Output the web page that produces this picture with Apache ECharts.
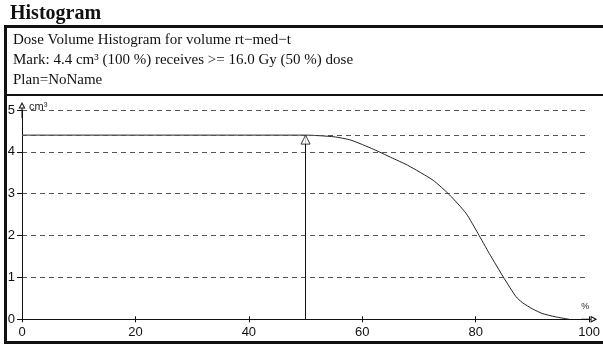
<!DOCTYPE html>
<html><head><meta charset="utf-8">
<script src="https://cdn.jsdelivr.net/npm/echarts@6/dist/echarts.min.js"></script>
<style>html,body{margin:0;padding:0;background:#fff}#c{width:603px;height:345px}</style>
</head><body><div id="c"></div>
<script>
// ---- data ----
const titleText = 'Histogram';
const infoLines = [
  'Dose Volume Histogram for volume rt\u2212med\u2212t',
  'Mark: 4.4 cm\u00B3 (100 %) receives >= 16.0 Gy (50 %) dose',
  'Plan=NoName'
];
const xTickLabels = [0, 20, 40, 60, 80, 100];
const yTickLabels = [0, 1, 2, 3, 4, 5];
const dosePct   = [0,   50,  55,   58,   62,   65,   68,   72.5, 75.4, 78.3, 80.4, 82.4, 85,   87.1, 88.2, 90,   91.7, 94,   96.5];
const volumeCm3 = [4.4, 4.4, 4.36, 4.28, 4.06, 3.87, 3.68, 3.32, 2.97, 2.53, 2.05, 1.57, 0.98, 0.54, 0.40, 0.25, 0.14, 0.06, 0.0];
const markDose = 50;
const markVolume = 4.4;
const xUnit = '%';
const yUnit = 'cm\u00B3';

// ---- chart ----
const arrowPath = 'path://M3.5,0 L7,6.5 L0,6.5 Z M3.5,2.3 L1.7,5.6 L5.3,5.6 Z M3,6.5 L4,6.5 L4,16 L3,16 Z';
const curve = dosePct.map((d, i) => [d, volumeCm3[i]]);
const sans = 'Liberation Sans';

const chart = echarts.init(document.getElementById('c'), null, {renderer: 'canvas'});
chart.setOption({
  animation: false,
  backgroundColor: '#fff',
  grid: {left: 22, right: 9, top: 110, height: 209.3, containLabel: false},
  xAxis: [{
    type: 'value', min: xTickLabels[0], max: xTickLabels[xTickLabels.length - 1],
    interval: xTickLabels[1] - xTickLabels[0], position: 'bottom',
    name: xUnit, nameLocation: 'end', nameGap: 0,
    nameTextStyle: {fontFamily: sans, fontSize: 9, color: '#222', align: 'right', verticalAlign: 'bottom', padding: [0, 0, 8, 0]},
    axisLine: {show: true, onZero: false, lineStyle: {color: '#111', width: 1}, symbol: ['none', arrowPath], symbolSize: [7, 16]},
    axisTick: {show: true, length: 3, lineStyle: {color: '#111'}},
    axisLabel: {fontFamily: sans, fontSize: 13, color: '#111', margin: 7},
    splitLine: {show: false}
  }, {
    type: 'value', min: xTickLabels[0], max: xTickLabels[xTickLabels.length - 1],
    interval: xTickLabels[1] - xTickLabels[0], position: 'bottom',
    axisLine: {show: false},
    axisTick: {show: true, inside: true, length: 3, lineStyle: {color: '#111'}},
    axisLabel: {show: false},
    splitLine: {show: false}
  }],
  yAxis: {
    type: 'value', min: yTickLabels[0], max: yTickLabels[yTickLabels.length - 1],
    interval: yTickLabels[1] - yTickLabels[0],
    name: yUnit, nameLocation: 'end', nameGap: 3,
    nameTextStyle: {fontFamily: sans, fontSize: 11, color: '#222', align: 'left', verticalAlign: 'middle', padding: [0, 0, 0, 7]},
    axisLine: {show: true, onZero: false, lineStyle: {color: '#111', width: 1}, symbol: ['none', arrowPath], symbolSize: [7, 16]},
    axisTick: {show: true, length: 5, lineStyle: {color: '#111'}},
    axisLabel: {fontFamily: sans, fontSize: 13, color: '#111', margin: 7},
    splitLine: {show: true, lineStyle: {color: '#555', type: [5, 4], width: 1}}
  },
  series: [{
    type: 'line', data: curve, showSymbol: false, smooth: 0.2,
    lineStyle: {color: '#222', width: 1}, z: 3,
    markLine: {
      silent: true, symbol: ['none', 'none'], label: {show: false},
      animation: false,
      data: [
        {yAxis: markVolume, lineStyle: {color: '#555', type: [5, 4], width: 1}},
        [{coord: [markDose, 0], lineStyle: {color: '#111', type: 'solid', width: 1}}, {coord: [markDose, markVolume]}]
      ]
    }
  }, {
    type: 'scatter', data: [[markDose, markVolume]], symbol: 'triangle',
    symbolSize: [9, 9], symbolOffset: [0, '50%'], z: 5, silent: true,
    itemStyle: {color: '#fff', borderColor: '#111', borderWidth: 1}
  }],
  graphic: [
    {type: 'text', left: 10, top: 4, style: {text: titleText, font: 'bold 20px "Liberation Serif"', fill: '#111'}},
    {type: 'rect', shape: {x: 4, y: 25, width: 599, height: 3}, style: {fill: '#111'}},
    {type: 'rect', shape: {x: 4, y: 25, width: 3, height: 319}, style: {fill: '#111'}},
    {type: 'rect', shape: {x: 4, y: 94, width: 599, height: 2}, style: {fill: '#111'}},
    {type: 'rect', shape: {x: 4, y: 341, width: 599, height: 3}, style: {fill: '#111'}},
    {type: 'text', left: 13, top: 33, style: {text: infoLines[0], font: '15px "Liberation Serif"', fill: '#111'}},
    {type: 'text', left: 13, top: 53, style: {text: infoLines[1], font: '15px "Liberation Serif"', fill: '#111'}},
    {type: 'text', left: 13, top: 73, style: {text: infoLines[2], font: '15px "Liberation Serif"', fill: '#111'}}
  ]
});
</script></body></html>
